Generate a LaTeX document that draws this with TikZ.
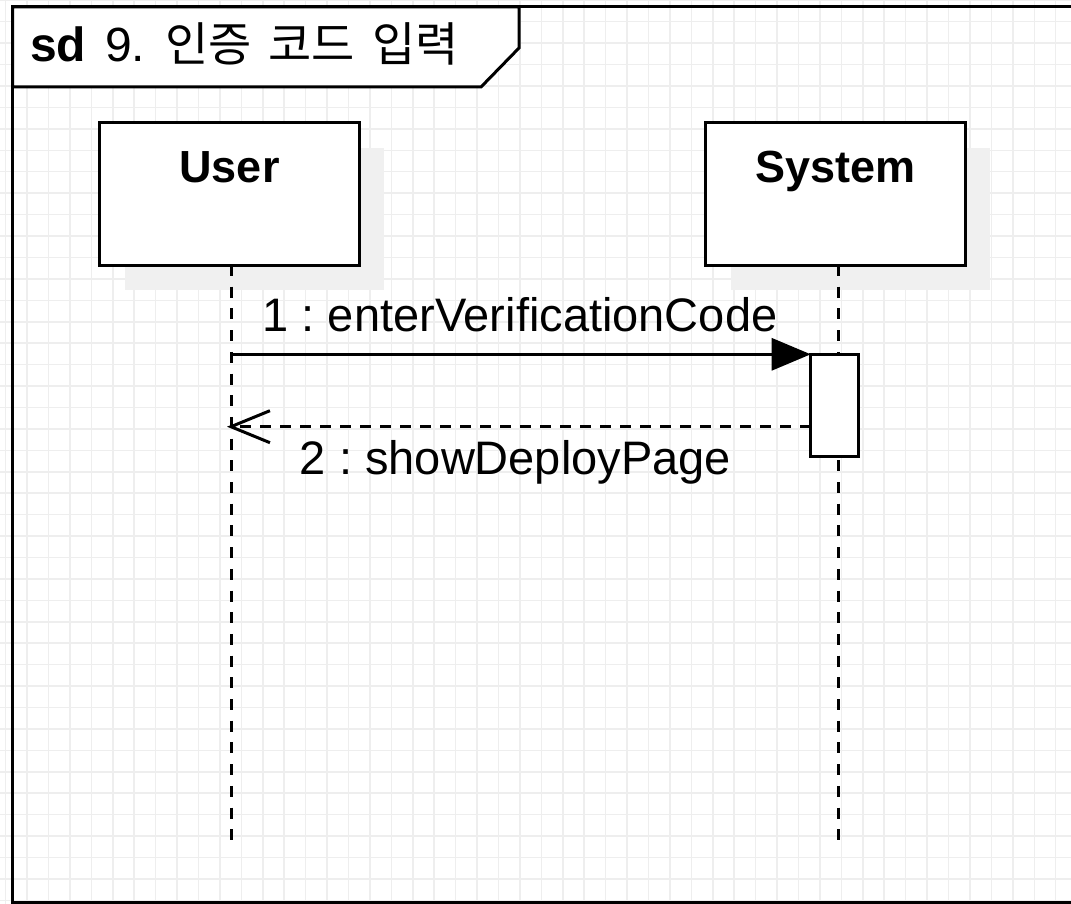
\documentclass[tikz,border=0pt]{standalone}
\usepackage{fontspec}
\setmainfont{Liberation Sans}
\newfontfamily\krfont{Noto Sans CJK KR}
\usetikzlibrary{arrows.meta}
\definecolor{gridc}{RGB}{238,238,238}
\definecolor{shadowc}{RGB}{240,240,240}
\frenchspacing
\begin{document}
\begin{tikzpicture}[x=1pt,y=-1pt,
  gridline/.style={draw=gridc, line width=1.5pt},
  frameline/.style={line width=3pt, line join=miter},
  lifebox/.style={draw, line width=3pt, fill=white, minimum width=260.5pt, minimum height=142pt, inner sep=0pt, outer sep=0pt},
  boxlbl/.style={font=\fontsize{45}{54}\selectfont\bfseries, inner sep=0pt, anchor=base},
  msglbl/.style={font=\fontsize{47}{56}\selectfont, inner sep=0pt, anchor=base},
  lifeline/.style={line width=3pt, dash pattern=on 11pt off 10.7pt},
  actbar/.style={draw, line width=3pt, fill=white, minimum width=47.6pt, minimum height=101.7pt, inner sep=0pt, outer sep=0pt},
  callmsg/.style={line width=3pt, -{Triangle[length=39pt,width=32pt]}},
  retmsg/.style={line width=3pt, dash pattern=on 11pt off 9pt, -{Straight Barb[length=39pt,width=32pt,line width=3pt]}}]
\useasboundingbox (0,0) rectangle (1071,904);
\fill[white] (0,0) rectangle (1071,904);
% grid
\foreach \i in {0,...,49} \draw[gridline] ({5.6+\i*21.43},0) -- ++(0,904);
\foreach \j in {0,...,42} \draw[gridline] (0,{0.3+\j*21.43}) -- ++(1071,0);
% frame
\draw[frameline] (1075,7) -- (12.5,7) -- (12.5,902.5) -- (1075,902.5);
\draw[frameline, fill=white] (12.5,7) -- (519,7) -- (519,48) -- (481,87) -- (12.5,87) -- cycle;
\node[inner sep=0pt, anchor=base west, font=\fontsize{48}{56}\selectfont] (title) at (30,61.5)
  {{\bfseries sd}\hspace{19pt}9.\hspace{20pt}{\krfont\fontsize{47}{56}\selectfont 인증\hspace{17pt}코드\hspace{17pt}입력}};
% shadows
\fill[shadowc] (124.5,148.5) rectangle (384,289.5);
\fill[shadowc] (730.5,148.5) rectangle (990,289.5);
% lifeline boxes
\node[lifebox] (user) at (229.25,194) {};
\node[lifebox] (system) at (835.35,194) {};
\node[boxlbl] (userlbl) at (229.5,183) {User};
\node[boxlbl] (systemlbl) at (835.5,183) {System};
% lifelines
\coordinate (userEnd) at (231,843);
\coordinate (systemEnd) at (838.3,843);
\draw[lifeline] (userEnd |- user.south) -- (userEnd);
\draw[lifeline] (systemEnd |- system.south) -- (systemEnd);
% activation
\node[actbar] (act) at (834.5,405.15) {};
% messages
\coordinate (u1) at (231,354.3);
\coordinate (u2) at (227,426.7);
\draw[callmsg] (u1) -- (act.north west);
\draw[retmsg] (act.west |- u2) -- (u2);
\node[msglbl] (m1) at (520,331.5) {1 : enterVerificationCode};
\node[msglbl] (m2) at (515.5,474) {2 : showDeployPage};
\end{tikzpicture}
\end{document}
